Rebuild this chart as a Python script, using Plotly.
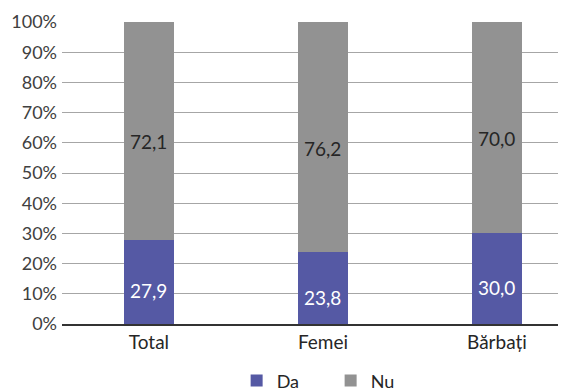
import plotly.graph_objects as go

categories = ["Total", "Femei", "Bărbați"]
da_values = [27.9, 23.8, 30.0]
nu_values = [72.1, 76.2, 70.0]
da_labels = ["27,9", "23,8", "30,0"]
nu_labels = ["72,1", "76,2", "70,0"]
y_ticks = [0, 10, 20, 30, 40, 50, 60, 70, 80, 90, 100]
y_ticklabels = [f"{v}%" for v in y_ticks]

FONT = "Lato"
DA_COLOR = "#5559a4"
NU_COLOR = "#929292"

fig = go.Figure()
fig.add_trace(go.Bar(x=categories, y=da_values, name="Da", marker_color=DA_COLOR,
                     width=0.29, marker_line_width=0))
fig.add_trace(go.Bar(x=categories, y=nu_values, name="Nu", marker_color=NU_COLOR,
                     width=0.29, marker_line_width=0))

annotations = []
for i, c in enumerate(categories):
    annotations.append(dict(x=c, y=da_values[i] / 2, text=da_labels[i], showarrow=False,
                            yshift=-9, font=dict(family=FONT, size=19, color="white")))
    annotations.append(dict(x=c, y=da_values[i] + nu_values[i] / 2, text=nu_labels[i],
                            showarrow=False, yshift=-11,
                            font=dict(family=FONT, size=19, color="#262626")))

fig.update_layout(
    barmode="stack",
    width=558, height=384,
    margin=dict(l=54, r=0, t=14, b=0, autoexpand=False),
    paper_bgcolor="white", plot_bgcolor="white",
    font=dict(family=FONT, size=18, color="#262626"),
    annotations=annotations,
    showlegend=True,
    legend=dict(orientation="h", x=0.533, xanchor="center", y=-0.02, yanchor="bottom",
                font=dict(family=FONT, size=18, color="#262626"),
                entrywidth=49, traceorder="normal"),
    xaxis=dict(range=[-0.5, 2.397], showgrid=False, showline=True, linecolor="#333333",
               linewidth=1.5, ticks="", automargin=False,
               tickfont=dict(family=FONT, size=19, color="#262626")),
    yaxis=dict(range=[0, 100], domain=[68 / 370, 1], tickvals=y_ticks, ticktext=y_ticklabels,
               showgrid=True, automargin=False, ticklabelstandoff=4,
               gridcolor="#a6a6a6", gridwidth=1.2, zeroline=False, showline=False, ticks="",
               tickfont=dict(family=FONT, size=18, color="#404040")),
)

fig.write_html("out.html")
